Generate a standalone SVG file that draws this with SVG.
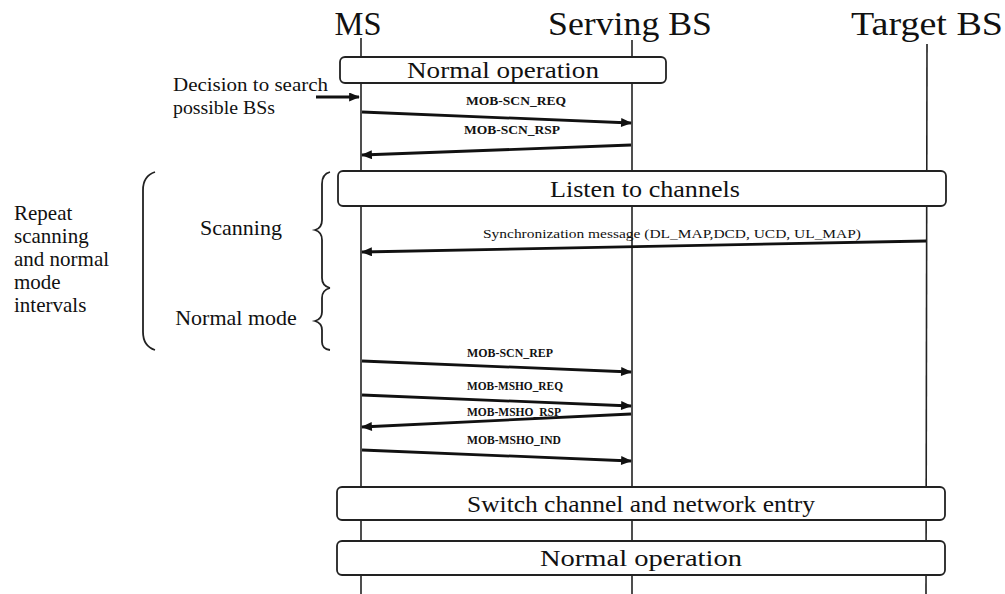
<svg xmlns="http://www.w3.org/2000/svg" width="1005" height="594" viewBox="0 0 1005 594">
  <style>
    .hdr { font-family: "Liberation Serif", serif; font-size: 34px; fill: #111; text-anchor: middle; }
    .life { stroke: #222; stroke-width: 1.6; fill: none; }
    .box rect { fill: #fff; stroke: #222; stroke-width: 1.8; }
    .box text { font-family: "Liberation Serif", serif; font-size: 23px; fill: #111; text-anchor: middle; }
    .msg { stroke: #111; stroke-width: 2.8; fill: none; marker-end: url(#ah); }
    .lbl { font-family: "Liberation Serif", serif; font-size: 12px; font-weight: bold; fill: #111; text-anchor: middle; }
    .note { font-family: "Liberation Serif", serif; font-size: 21px; fill: #111; }
    .brace { stroke: #222; stroke-width: 1.8; fill: none; }
  </style>
  <defs>
    <marker id="ah" viewBox="0 0 12 10" refX="11" refY="5" markerWidth="12" markerHeight="9" markerUnits="userSpaceOnUse" orient="auto">
      <path d="M0,0 L12,5 L0,10 z" fill="#111"/>
    </marker>
  </defs>
  <rect width="1005" height="594" fill="#fff"/>

  <!-- participants and lifelines -->
  <g id="ms">
    <text class="hdr" x="358" y="35" textLength="47" lengthAdjust="spacingAndGlyphs">MS</text>
    <line class="life" x1="361" y1="38" x2="361" y2="594"/>
  </g>
  <g id="serving-bs">
    <text class="hdr" x="630" y="35" textLength="164" lengthAdjust="spacingAndGlyphs">Serving BS</text>
    <line class="life" x1="632" y1="40" x2="632" y2="594"/>
  </g>
  <g id="target-bs">
    <text class="hdr" x="927" y="35" textLength="152" lengthAdjust="spacingAndGlyphs">Target BS</text>
    <line class="life" x1="927" y1="44" x2="926" y2="594"/>
  </g>

  <!-- phase boxes -->
  <g id="normal-op-1" class="box">
    <rect x="340" y="57" width="326" height="26" rx="5"/>
    <text x="503" y="78" textLength="192" lengthAdjust="spacingAndGlyphs">Normal operation</text>
  </g>
  <g id="listen" class="box">
    <rect x="338" y="171" width="608" height="35" rx="5"/>
    <text x="645" y="197" textLength="190" lengthAdjust="spacingAndGlyphs">Listen to channels</text>
  </g>
  <g id="switch" class="box">
    <rect x="337" y="487" width="608" height="33" rx="5"/>
    <text x="641" y="512" textLength="348" lengthAdjust="spacingAndGlyphs">Switch channel and network entry</text>
  </g>
  <g id="normal-op-2" class="box">
    <rect x="337" y="541" width="608" height="34" rx="5"/>
    <text x="641" y="566" textLength="202" lengthAdjust="spacingAndGlyphs">Normal operation</text>
  </g>

  <!-- annotations -->
  <g id="decision">
    <text class="note" x="173" y="91" style="font-size:18px" textLength="155" lengthAdjust="spacingAndGlyphs">Decision to search</text>
    <text class="note" x="173" y="114" style="font-size:18px" textLength="102" lengthAdjust="spacingAndGlyphs">possible BSs</text>
  </g>
  <g id="repeat">
    <text class="note" x="14" y="220">Repeat</text>
    <text class="note" x="14" y="243">scanning</text>
    <text class="note" x="14" y="266">and normal</text>
    <text class="note" x="14" y="289">mode</text>
    <text class="note" x="14" y="312">intervals</text>
  </g>
  <g id="scanning">
    <text class="note" x="241" y="235" text-anchor="middle" style="font-size:22px">Scanning</text>
  </g>
  <g id="normal-mode">
    <text class="note" x="236" y="325" text-anchor="middle" style="font-size:22px">Normal mode</text>
  </g>
  <g id="braces">
    <path class="brace" d="M155,172 Q143,176 143,190 L143,332 Q143,346 155,350"/>
    <path class="brace" d="M330,172 Q322,174 322,184 L322,220 Q322,228 315,230 Q322,232 322,240 L322,278 Q322,286 330,288"/>
    <path class="brace" d="M330,288 Q322,290 322,298 L322,312 Q322,319 315,321 Q322,323 322,330 L322,342 Q322,349 330,350"/>
  </g>

  <!-- messages -->
  <g id="connectors">
    <line class="msg" x1="316" y1="97" x2="359" y2="97"/>
    <line class="msg" x1="362" y1="112" x2="631" y2="123"/>
    <line class="msg" x1="631" y1="145" x2="362" y2="155"/>
    <line class="msg" x1="926" y1="241" x2="362" y2="252"/>
    <line class="msg" x1="362" y1="361" x2="631" y2="372"/>
    <line class="msg" x1="362" y1="395" x2="631" y2="406"/>
    <line class="msg" x1="631" y1="414" x2="362" y2="427"/>
    <line class="msg" x1="362" y1="450" x2="631" y2="461"/>
    <text class="lbl" x="516" y="105" textLength="100" lengthAdjust="spacingAndGlyphs">MOB-SCN_REQ</text>
    <text class="lbl" x="512" y="134" textLength="96" lengthAdjust="spacingAndGlyphs">MOB-SCN_RSP</text>
    <text class="lbl" x="672" y="238" style="font-weight:normal" textLength="378" lengthAdjust="spacingAndGlyphs">Synchronization message (DL_MAP,DCD, UCD, UL_MAP)</text>
    <text class="lbl" x="510" y="357" textLength="86" lengthAdjust="spacingAndGlyphs">MOB-SCN_REP</text>
    <text class="lbl" x="515" y="390" textLength="96" lengthAdjust="spacingAndGlyphs">MOB-MSHO_REQ</text>
    <text class="lbl" x="514" y="416" textLength="94" lengthAdjust="spacingAndGlyphs">MOB-MSHO_RSP</text>
    <text class="lbl" x="514" y="444" textLength="94" lengthAdjust="spacingAndGlyphs">MOB-MSHO_IND</text>
  </g>
</svg>
